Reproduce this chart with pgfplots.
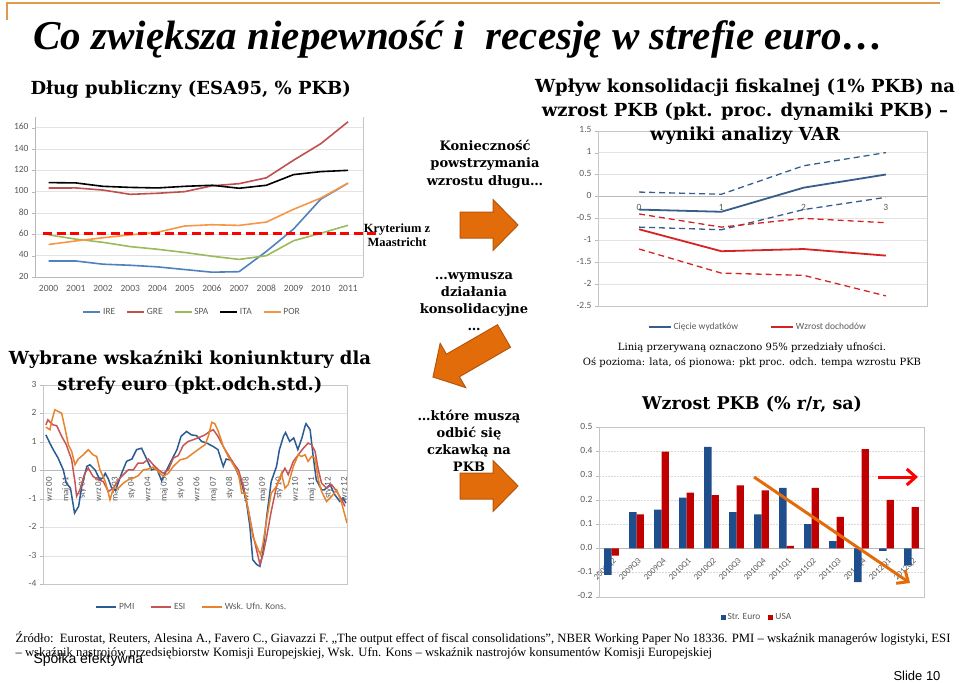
\documentclass[border=0pt]{standalone}
\usepackage{pgfplots}
\pgfplotsset{compat=1.18}
\usepackage{fontspec}
\usetikzlibrary{arrows.meta}
\setmainfont{DejaVu Serif}
\newfontfamily\titlefont{Liberation Serif}
\newfontfamily\chartfont{Carlito}
\newfontfamily\sansfont{Liberation Sans}

\definecolor{ireC}{HTML}{4F81BD}
\definecolor{greC}{HTML}{C0504D}
\definecolor{spaC}{HTML}{9BBB59}
\definecolor{porC}{HTML}{F79646}
\definecolor{varB}{HTML}{385D8A}
\definecolor{varR}{HTML}{D52222}
\definecolor{pmiC}{HTML}{2A5B93}
\definecolor{esiC}{HTML}{C65655}
\definecolor{konC}{HTML}{E7832A}
\definecolor{barB}{HTML}{1F4E8C}
\definecolor{barR}{HTML}{C00000}
\definecolor{arrowO}{HTML}{E36C0A}
\definecolor{arrowD}{HTML}{B5560A}
\definecolor{topline}{HTML}{DE9A4E}
\definecolor{lbl}{HTML}{595959}

\pgfplotsset{
  slide/.style={
    scale only axis, anchor=south west, clip=false,
    axis line style={draw=gray!55},
    tick style={draw=gray!55}, tick align=outside, major tick length=3pt,
    xtick style={draw=none},
    ymajorgrids, major grid style={gray!22},
    typeset ticklabels with strut,
    tick label style={font=\chartfont\fontsize{9.5}{11}\selectfont, text=lbl},
    /pgf/number format/assume math mode=true,
    hide obscured x ticks=false, hide obscured y ticks=false,
    legend style={draw=none, fill=none, anchor=center,
      font=\chartfont\fontsize{9.5}{11}\selectfont, text=lbl,
      legend columns=-1,
      /tikz/every even column/.append style={column sep=9pt}},
  },
  frame/.style={after end axis/.code={\draw[gray!45] (rel axis cs:0,0) rectangle (rel axis cs:1,1);}},
  shortline/.style={legend image code/.code={\draw[##1] (0pt,0pt) -- (#1,0pt);}},
}

\begin{document}
\begin{tikzpicture}
\useasboundingbox (0pt,0pt) rectangle (960pt,-682pt);

% --- Dlug publiczny
\begin{axis}[slide, at={(35pt,-277pt)}, width=328pt, height=160pt,
  xmin=1999.5, xmax=2011.55, ymin=20, ymax=170,
  xtick={2000,2001,...,2011}, ytick={20,40,...,160},
  /pgf/number format/1000 sep={},
  axis x line*=bottom, axis y line*=left,
  after end axis/.code={\draw[gray!45] (rel axis cs:1,0) -- (rel axis cs:1,1);},
  shortline=17pt,
  legend style={at={(0.479,-0.219)}},
  every axis plot/.append style={line width=1.6pt},
]
\addplot[ireC] coordinates {(2000,35)(2001,35)(2002,32)(2003,31)(2004,29.5)(2005,27)(2006,24.5)(2007,25)(2008,44)(2009,65)(2010,93)(2011,108)};
\addplot[greC] coordinates {(2000,103.4)(2001,103.5)(2002,101.5)(2003,97.5)(2004,98.5)(2005,100)(2006,105.5)(2007,107.5)(2008,113)(2009,129.5)(2010,145)(2011,165.5)};
\addplot[spaC] coordinates {(2000,59.5)(2001,55.5)(2002,52.5)(2003,48.5)(2004,46)(2005,43)(2006,39.5)(2007,36.5)(2008,40)(2009,54)(2010,61)(2011,68.5)};
\addplot[black] coordinates {(2000,108.5)(2001,108.2)(2002,105)(2003,104)(2004,103.5)(2005,105)(2006,106)(2007,103.2)(2008,106)(2009,116)(2010,118.8)(2011,120)};
\addplot[porC] coordinates {(2000,50.5)(2001,53.8)(2002,56.8)(2003,59.5)(2004,62)(2005,67.8)(2006,69)(2007,68.4)(2008,71.5)(2009,83.5)(2010,94)(2011,108)};
\addplot[red, line width=3pt, dash pattern=on 9pt off 4.5pt, forget plot] coordinates {(1999.8,61)(2012.07,61)};
\legend{IRE,GRE,SPA,ITA,POR}
\end{axis}

% --- VAR
\begin{axis}[slide, frame, at={(598pt,-306pt)}, width=329pt, height=175.3pt,
  xmin=-0.5, xmax=3.5, ymin=-2.5, ymax=1.5,
  xtick={0,1,2,3}, ytick={-2.5,-2,...,1.5},
  minor xtick={0.5,1.5,2.5}, minor tick length=3pt,
  axis x line*=middle, axis y line*=left,
  shortline=22pt,
  legend style={at={(0.486,-0.12)}, /tikz/every even column/.append style={column sep=30pt}},
]
\addplot[varB, line width=1.8pt] coordinates {(0,-0.3)(1,-0.35)(2,0.2)(3,0.5)};
\addplot[varR, line width=1.8pt] coordinates {(0,-0.75)(1,-1.25)(2,-1.2)(3,-1.35)};
\addplot[varB, line width=1.3pt, dash pattern=on 6pt off 4pt, forget plot] coordinates {(0,0.1)(1,0.05)(2,0.7)(3,1.0)};
\addplot[varB, line width=1.3pt, dash pattern=on 6pt off 4pt, forget plot] coordinates {(0,-0.7)(1,-0.76)(2,-0.3)(3,-0.02)};
\addplot[varR, line width=1.3pt, dash pattern=on 6pt off 4pt, forget plot] coordinates {(0,-0.4)(1,-0.7)(2,-0.5)(3,-0.6)};
\addplot[varR, line width=1.3pt, dash pattern=on 6pt off 4pt, forget plot] coordinates {(0,-1.2)(1,-1.75)(2,-1.8)(3,-2.27)};
\legend{Cięcie wydatków,Wzrost dochodów}
\end{axis}

% --- Wskazniki koniunktury
\begin{axis}[slide, frame, at={(43pt,-584.3pt)}, width=304pt, height=199.3pt,
  xmin=-3.4, xmax=145, ymin=-4, ymax=3,
  ytick={-4,-3,...,3}, xtick={0,8,...,144},
  xticklabels={wrz 00,maj 01,sty 02,wrz 02,maj 03,sty 04,wrz 04,maj 05,sty 06,wrz 06,maj 07,sty 08,wrz 08,maj 09,sty 10,wrz 10,maj 11,sty 12,wrz 12},
  x tick label style={rotate=90, anchor=east, font=\chartfont\fontsize{9}{10}\selectfont},
  axis x line*=middle, axis y line*=left,
  shortline=20pt,
  legend style={at={(0.49,-0.114)}, /tikz/every even column/.append style={column sep=14pt}},
  every axis plot/.append style={line width=1.5pt},
]
\addplot[pmiC] coordinates {(-2,1.25)(0,0.95)(1.6,0.73)(4,0.43)(6.5,0.02)(8,-0.45)(10,-0.62)(12,-1.5)(14,-1.26)(15.5,-0.56)(18,0.14)(19.5,0.2)(22,0.02)(24.4,-0.33)(26,-0.25)(27,-0.1)(28.5,-0.3)(30,-0.6)(32,-0.7)(35,-0.1)(37.4,0.32)(40,0.4)(42.3,0.73)(44.7,0.78)(47,0.43)(49.6,0.02)(52,0.08)(54.5,-0.36)(57,0.02)(59.4,0.37)(62,0.73)(64,1.2)(66.7,1.37)(69,1.25)(71.6,1.22)(74,1.02)(76.5,0.96)(79.7,0.84)(82,0.73)(84.6,0.14)(86,0.4)(88.7,0.35)(91,0.02)(93.6,-0.45)(96,-1.15)(97.6,-1.97)(99,-3.14)(101,-3.31)(102.5,-3.37)(104,-2.85)(105.8,-1.62)(108,-0.39)(110.6,0.14)(112,0.73)(114,1.2)(115,1.33)(117,1.02)(119,1.14)(121,0.73)(123,1.14)(124.5,1.55)(125,1.64)(127,1.43)(128.5,0.49)(130,-0.33)(132.6,-0.68)(134,-0.68)(136.7,-0.5)(139,-0.85)(141.5,-1.09)(143,-0.97)(144.5,-1.15)};
\addplot[esiC] coordinates {(-2,1.6)(-1,1.78)(0,1.7)(1.5,1.6)(3.3,1.57)(5.7,1.2)(8,0.9)(10.6,0.37)(12.2,-0.4)(13,-0.91)(14.6,-0.68)(17,-0.1)(18.7,0.08)(21,-0.21)(23.6,-0.33)(26,-0.39)(28.5,-0.74)(31,-0.62)(33.4,-0.33)(35.8,-0.15)(38.2,0.02)(40.7,0.02)(43,0.26)(45.6,0.26)(48,0.4)(50.4,0.2)(52.9,0.02)(55.3,-0.1)(57.8,0.02)(60.2,0.43)(62.6,0.52)(65,0.87)(67.5,1.02)(70,1.08)(73.2,1.17)(75.7,1.25)(78,1.37)(79.7,1.43)(82,1.2)(84.6,0.84)(87,0.55)(89.5,0.26)(92,0.02)(94.4,-0.56)(96.8,-1.38)(99.3,-2.32)(101.2,-2.9)(102.5,-3.3)(104,-2.96)(105.8,-2.32)(108,-1.44)(110.6,-0.56)(113,-0.15)(114.7,0.08)(116.3,-0.15)(118.8,0.32)(121.2,0.55)(123.7,0.78)(126,0.96)(127.7,0.9)(129.4,0.67)(131,0.02)(132.6,-0.45)(135,-0.62)(137.5,-0.5)(140,-0.74)(142.4,-1.03)(144,-1.26)};
\addplot[konC] coordinates {(-2,1.52)(0,1.43)(1,1.78)(2.4,2.13)(4,2.07)(5.7,2.01)(7.3,1.49)(9,0.9)(10.6,0.67)(12.2,0.2)(13.8,0.4)(16.3,0.55)(18.7,0.73)(21,0.55)(22.8,0.49)(24.4,0.02)(27,-0.39)(28.5,-0.8)(29.3,-1.03)(31,-0.62)(33.4,-0.62)(35.8,-0.45)(38.2,-0.33)(40.7,-0.27)(43,-0.19)(45.6,0.02)(48,0.05)(50.4,0.12)(52.9,-0.04)(55.3,-0.21)(57.8,-0.1)(60.2,0.14)(63.5,0.37)(66.7,0.43)(70,0.61)(73.2,0.78)(75.7,0.9)(77.3,1.2)(79,1.69)(80.5,1.64)(82.2,1.37)(84.6,0.84)(87,0.49)(89.5,0.2)(92,-0.1)(93.6,-0.8)(95.2,-0.8)(96.8,-1.38)(99,-2.32)(100,-2.49)(101.7,-2.79)(102.8,-2.96)(104,-2.55)(105.8,-1.73)(108,-0.8)(110.6,-0.56)(113,-0.1)(114.7,-0.62)(116.3,-0.5)(118.8,0.14)(121.2,0.55)(122.8,0.49)(124.5,0.55)(126,0.32)(127.7,0.49)(129.4,0.43)(131,-0.33)(132.6,-0.74)(135,-1.09)(137.5,-0.91)(140,-0.68)(142.4,-1.15)(145,-1.85)};
\legend{PMI,ESI,Wsk. Ufn. Kons.}
\end{axis}

% --- Wzrost PKB
\begin{axis}[slide, frame, at={(599pt,-596.7pt)}, width=325pt, height=169.3pt,
  ybar=0pt, bar width=7.3pt,
  xmin=-0.5, xmax=12.5, ymin=-0.2, ymax=0.5,
  ytick={-0.2,-0.1,0,0.1,0.2,0.3,0.4,0.5},
  yticklabel style={/pgf/number format/fixed, /pgf/number format/fixed zerofill, /pgf/number format/precision=1},
  xtick={0,1,...,12},
  xticklabels={2009Q2,2009Q3,2009Q4,2010Q1,2010Q2,2010Q3,2010Q4,2011Q1,2011Q2,2011Q3,2011Q4,2012Q1,2012Q2},
  x tick label style={rotate=45, anchor=north east, font=\chartfont\fontsize{8.5}{10}\selectfont},
  axis x line*=middle, axis y line*=left,
  major grid style={gray!30, dash pattern=on 2pt off 1pt},
  legend image code/.code={\fill[#1] (0pt,-2.5pt) rectangle (5pt,2.5pt);},
  legend style={at={(0.486,-0.12)}, /tikz/every even column/.append style={column sep=6pt}},
]
\addplot[fill=barB, draw=none] coordinates {(0,-0.11)(1,0.15)(2,0.16)(3,0.21)(4,0.42)(5,0.15)(6,0.14)(7,0.25)(8,0.10)(9,0.03)(10,-0.14)(11,-0.01)(12,-0.07)};
\addplot[fill=barR, draw=none] coordinates {(0,-0.03)(1,0.14)(2,0.40)(3,0.23)(4,0.22)(5,0.26)(6,0.24)(7,0.01)(8,0.25)(9,0.13)(10,0.41)(11,0.20)(12,0.17)};
\legend{Str. Euro,USA}
\end{axis}

\begin{scope}[x=1pt, y=-1pt]
\draw[topline, line width=1.5pt] (7,20) -- (7,3) -- (940,3);
\node[anchor=base west, font=\titlefont\bfseries\itshape\fontsize{41}{44}\selectfont] at (30,50) {Co zwiększa niepewność i\ \ recesję w strefie euro…};
\node[anchor=west, font=\bfseries\fontsize{18}{22}\selectfont] at (27,90) {Dług publiczny (ESA95, \% PKB)};
\node[align=center, font=\bfseries\fontsize{18}{24}\selectfont] at (745,112) {Wpływ konsolidacji fiskalnej (1\% PKB) na\\ wzrost PKB (pkt. proc. dynamiki PKB) –\\ wyniki analizy VAR};
\node[align=center, font=\bfseries\fontsize{18}{26}\selectfont] at (190,373) {Wybrane wskaźniki koniunktury dla\\ strefy euro (pkt.odch.std.)};
\node[align=center, font=\bfseries\fontsize{13}{17.5}\selectfont] at (485,164) {Konieczność\\ powstrzymania\\ wzrostu długu…};
\node[align=center, font=\bfseries\fontsize{13}{17}\selectfont] at (474,302) {…wymusza\\ działania\\ konsolidacyjne\\ …};
\node[align=center, font=\bfseries\fontsize{13}{17}\selectfont] at (469,441) {…które muszą\\ odbić się\\ czkawką na\\ PKB};
\node[align=center, font=\titlefont\bfseries\fontsize{12.5}{14.5}\selectfont] at (397,235) {Kryterium z\\ Maastricht};
\node[align=center, font=\fontsize{10}{15}\selectfont] at (752,355) {Linią przerywaną oznaczono 95\% przedziały ufności.\\ Oś pozioma: lata, oś pionowa: pkt proc. odch. tempa wzrostu PKB};
\node[font=\bfseries\fontsize{17.5}{20}\selectfont] at (752,404) {Wzrost PKB (\% r/r, sa)};
% block arrows
\begin{scope}[shift={(518,225)}]
\filldraw[fill=arrowO, draw=arrowD, line width=1pt] (0,0) -- (-25,-25.5) -- (-25,-13) -- (-58,-13) -- (-58,13) -- (-25,13) -- (-25,25.5) -- cycle;
\end{scope}
\begin{scope}[shift={(518,486)}]
\filldraw[fill=arrowO, draw=arrowD, line width=1pt] (0,0) -- (-25,-25.5) -- (-25,-13) -- (-58,-13) -- (-58,13) -- (-25,13) -- (-25,25.5) -- cycle;
\end{scope}
\begin{scope}[shift={(433,377)}, rotate=210]
\filldraw[fill=arrowO, draw=arrowD, line width=1pt] (0,0) -- (-23,-25.5) -- (-23,-13) -- (-82,-13) -- (-82,13) -- (-23,13) -- (-23,25.5) -- cycle;
\end{scope}
% arrows on bar chart
\draw[arrowO, line width=3pt, -{Straight Barb[length=9pt, width=16pt]}] (754,477) -- (910,583);
\draw[red, line width=3pt, -{Straight Barb[length=9pt, width=16pt]}] (878,477) -- (918,477);
% footer
\node[anchor=north west, align=left, font=\titlefont\fontsize{12.7}{14}\selectfont] at (12,628) {Źródło:\ \ Eurostat, Reuters, Alesina A., Favero C., Giavazzi F. „The output effect of fiscal consolidations”, NBER Working Paper No 18336. PMI – wskaźnik managerów logistyki, ESI\\ – wskaźnik nastrojów przedsiębiorstw Komisji Europejskiej, Wsk. Ufn. Kons – wskaźnik nastrojów konsumentów Komisji Europejskiej};
\node[anchor=west, font=\sansfont\fontsize{14}{16}\selectfont] at (30,660) {Spółka efektywna};
\node[anchor=east, font=\sansfont\fontsize{13}{15}\selectfont] at (944,676) {Slide 10};
\end{scope}
\end{tikzpicture}
\end{document}
